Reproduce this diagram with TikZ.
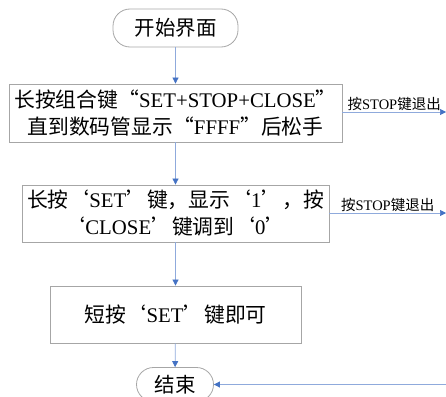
\documentclass[tikz,border=0pt]{standalone}
\usepackage{fontspec}
\setmainfont{Liberation Serif}
\newfontfamily\cjk{Noto Sans CJK SC}
\usetikzlibrary{arrows.meta}
\definecolor{lineblue}{HTML}{8FAADC}
\definecolor{tipblue}{HTML}{4472C4}
\definecolor{boxgray}{HTML}{A6A6A6}
\tikzset{
  procbox/.style={draw=boxgray, line width=0.8pt, rectangle, align=center, inner sep=0pt, font=\fontsize{20.8}{27}\selectfont},
  termbox/.style={draw=boxgray, line width=0.8pt, rectangle, rounded corners=17pt, inner sep=0pt, font=\fontsize{20.5}{26}\selectfont},
  flow/.style={draw=lineblue, line width=0.7pt, -{Triangle[length=6pt,width=6pt,color=tipblue,fill=tipblue]}},
  exitlab/.style={inner sep=0pt, font=\fontsize{14.5}{16}\selectfont}
}
\begin{document}
\begin{tikzpicture}[x=1pt,y=-1pt]
\useasboundingbox (0,0) rectangle (446,396);
\node[termbox, minimum width=125pt, minimum height=38pt] (start) at (175.5,28) {\cjk 开始界面};
\node[procbox, minimum width=333pt, minimum height=58pt] (b1) at (175.5,113)
  {{\cjk 长按组合键“}SET+STOP+CLOSE{\cjk ”}\\{\cjk 直到数码管显示“}FFFF{\cjk ”后松手}};
\node[procbox, minimum width=307pt, minimum height=57pt] (b2) at (175.5,213.5)
  {{\cjk 长按‘}SET{\cjk ’键，显示‘}1{\cjk ’，按}\\{\cjk ‘}CLOSE{\cjk ’键调到‘}0{\cjk ’}};
\node[procbox, minimum width=251pt, minimum height=57pt] (b3) at (175.5,314.5)
  {{\cjk 短按‘}SET{\cjk ’键即可}};
\node[termbox, minimum width=77pt, minimum height=34pt] (end) at (175,384.5) {\cjk 结束};
\coordinate (x1) at (446,112);
\coordinate (x2) at (446,213);
\coordinate (x3) at (446,384.5);
\draw[flow] (start) -- (b1);
\draw[flow] (b1) -- (b2);
\draw[flow] (b2) -- (b3);
\draw[flow] (b3) -- (end);
\draw[flow] (b1.east |- x1) -- node[exitlab, above=1pt] {{\cjk 按}STOP{\cjk 键退出}} (x1);
\draw[flow] (b2.east |- x2) -- node[exitlab, above=1pt] {{\cjk 按}STOP{\cjk 键退出}} (x2);
\draw[flow] (x3) -- (end);
\end{tikzpicture}
\end{document}
